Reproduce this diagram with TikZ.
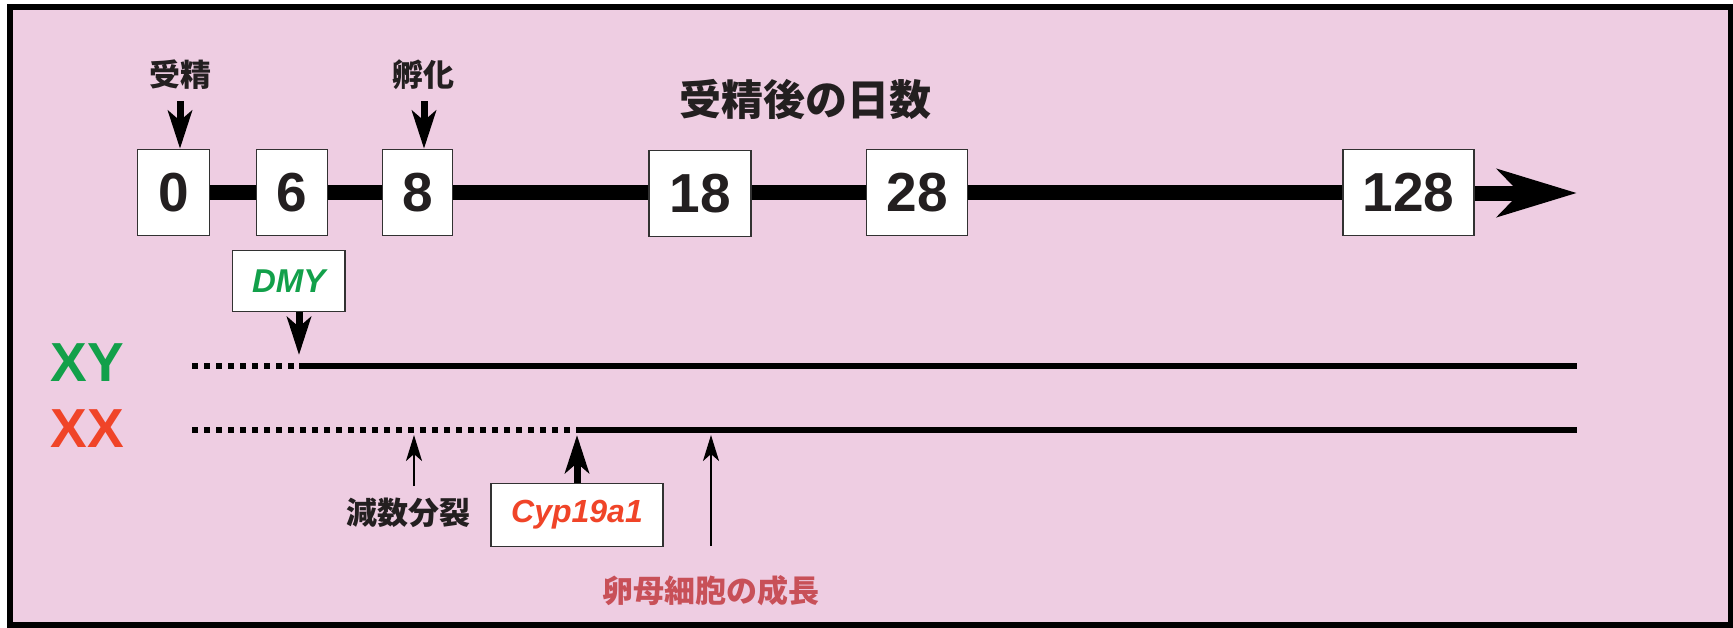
\documentclass[tikz,border=0pt]{standalone}
\usepackage{fontspec}
\setmainfont{Liberation Sans}
\newfontfamily\cjk{Noto Sans CJK JP}
\usetikzlibrary{arrows.meta}
\definecolor{bgpink}{RGB}{238,205,226}
\definecolor{boxgray}{RGB}{50,50,50}
\definecolor{txtdark}{RGB}{35,31,32}
\definecolor{xygreen}{RGB}{18,160,74}
\definecolor{xxred}{RGB}{240,68,40}
\definecolor{oored}{RGB}{200,80,88}
\begin{document}
\begin{tikzpicture}[x=0.5pt,y=-0.5pt,
  numbox/.style={draw=boxgray, line width=0.75pt, fill=white, inner sep=0pt,
    minimum height=43pt, text=txtdark, font=\fontsize{27.5}{30}\selectfont\bfseries},
  genebox/.style={draw=boxgray, line width=0.75pt, fill=white, inner sep=0pt,
    font=\fontsize{16.5}{18}\selectfont\bfseries\itshape},
  cjklabel/.style={text=txtdark, inner sep=0pt, font=\cjk\bfseries\fontsize{15.5}{18}\selectfont},
  axisline/.style={line width=7.5pt, draw=black},
  axisarrow/.style={line width=7.5pt, draw=black, -{Stealth[length=39.5pt,width=23.5pt,inset=11pt]}},
  thickarr/.style={line width=3.5pt, draw=black, -{Stealth[length=19pt,width=12pt,inset=5pt]}},
  thinarr/.style={line width=1.25pt, draw=black, -{Stealth[length=13pt,width=8pt,inset=3.5pt]}},
  dotline/.style={line width=3pt, draw=black, dash pattern=on 2.75pt off 3.25pt},
  solidline/.style={line width=3pt, draw=black},
  sexlabel/.style={inner sep=0pt, font=\fontsize{27.5}{30}\selectfont\bfseries}
]
\useasboundingbox (0,0) rectangle (1733,627);
\fill[white] (0,0) rectangle (1733,627);
\draw[line width=3pt, fill=bgpink] (10,7) rectangle (1730.5,625);

% title and event labels
\node[cjklabel, font=\cjk\bfseries\fontsize{21}{24}\selectfont] (title) at (805,100) {受精後の日数};
\node[cjklabel] (jusei) at (180,75) {受精};
\node[cjklabel] (fuka) at (423,75) {孵化};

% day boxes
\node[numbox, minimum width=35.8pt] (b0) at (173.5,192.5) {0};
\node[numbox, minimum width=35.5pt] (b6) at (292,192.5) {6};
\node[numbox, minimum width=35.2pt] (b8) at (417.5,192.5) {8};
\node[numbox, minimum width=51pt] (b18) at (700,193.5) {18};
\node[numbox, minimum width=50.5pt] (b28) at (917,192.5) {28};
\node[numbox, minimum width=65.5pt] (b128) at (1408.5,192.5) {128};
\coordinate (tip) at (1577,193);

% axis segments
\draw[axisline] (b0) -- (b6);
\draw[axisline] (b6) -- (b8);
\draw[axisline] (b8.east) -- (b18.west |- b8.east);
\draw[axisline] (b18.east |- b28.west) -- (b28.west);
\draw[axisline] (b28) -- (b128);
\draw[axisarrow] (b128.east |- tip) -- (tip);

% event arrows
\coordinate (a0) at (180,101);
\coordinate (a8) at (424,101);
\draw[thickarr] (a0) -- (a0 |- b0.north);
\draw[thickarr] (a8) -- (a8 |- b8.north);

% sex labels
\node[sexlabel, text=xygreen] (xy) at (87,362.5) {XY};
\node[sexlabel, text=xxred] (xx) at (87,428.5) {XX};

% XY line
\coordinate (xys) at (192,366);
\coordinate (xyd) at (365,366);
\coordinate (xyj) at (299,366);
\coordinate (xye) at (1577,366);
\draw[dotline] (xys) -- (xyd);
\draw[solidline] (xyj) -- (xye);

% XX line
\coordinate (xxs) at (192,430);
\coordinate (xxj) at (577,430);
\coordinate (xxe) at (1577,430);
\draw[dotline] (xxs) -- (xxj);
\draw[solidline] (xxj) -- (xxe);

% DMY
\node[genebox, text=xygreen, minimum width=56.4pt, minimum height=30.5pt] (dmy) at (288.7,281) {DMY};
\coordinate (dmyt) at (299,355);
\draw[thickarr] (dmyt |- dmy.south) -- (dmyt);

% meiosis
\coordinate (mei) at (414,435);
\coordinate (meib) at (414,486);
\node[cjklabel] (meilab) at (408.7,513) {減数分裂};
\draw[thinarr] (meib) -- (mei);

% Cyp19a1
\node[genebox, text=xxred, minimum width=86pt, minimum height=31.5pt, font=\fontsize{16}{18}\selectfont\bfseries\itshape] (cyp) at (577,515) {Cyp19a1};
\coordinate (cypt) at (577,435);
\draw[thickarr] (cyp.north) -- (cypt);

% oocyte growth
\coordinate (oot) at (711,435);
\coordinate (oob) at (711,546);
\node[cjklabel, text=oored] (oolab) at (710.5,591) {卵母細胞の成長};
\draw[thinarr] (oob) -- (oot);
\end{tikzpicture}
\end{document}
